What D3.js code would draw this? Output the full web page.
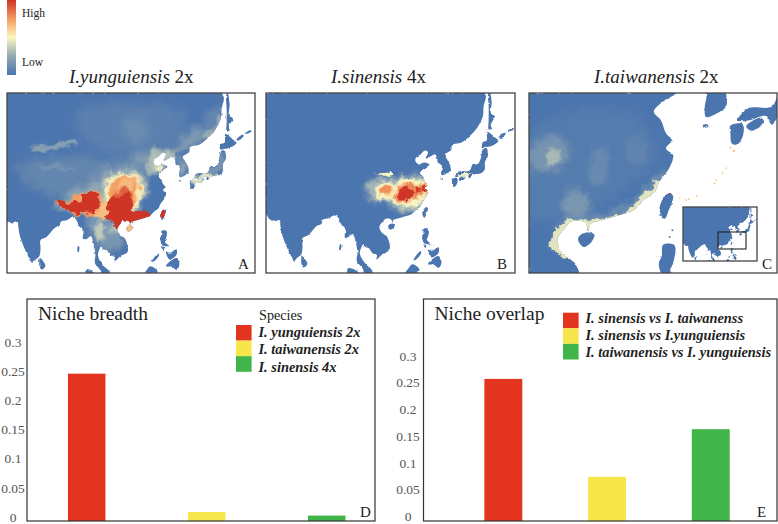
<!DOCTYPE html>
<html>
<head>
<meta charset="utf-8">
<script src="https://cdn.jsdelivr.net/npm/d3@7"></script>
<style>
body { margin: 0; background: #fff; }
text { font-family: "Liberation Serif", serif; fill: #222; }
.axis text { fill: #555; font-size: 13.5px; text-anchor: middle; }
.legend_label { font-weight: bold; font-style: italic; font-size: 14.4px; }
</style>
</head>
<body>
<div id="chart"></div>
<script>
// bar data
var breadth_species = ["I. yunguiensis 2x", "I. taiwanensis 2x", "I. sinensis 4x"];
var breadth_values = [0.248, 0.011, 0.005];
var overlap_pairs = ["I. sinensis vs I. taiwanenss", "I. sinensis vs I.yunguiensis", "I. taiwanensis vs I. yunguiensis"];
var overlap_values = [0.26, 0.077, 0.166];
var tick_values = [0, 0.05, 0.1, 0.15, 0.2, 0.25, 0.3];
var bar_colours = ["#e3341f", "#f6e64a", "#41b549"];

// suitability colour ramp, low to high
var ramp_stops = [0, 0.25, 0.5, 0.72, 1];
var ramp_colours = ["#4c75ae", "#93a9b2", "#fbf7c2", "#f6a76a", "#cf3526"];

// land outlines as [lon, lat]
var mainland = [[141,60],[140.6,54.2],[141.3,53.2],[140.5,51],[140.3,49],[138.5,46.5],[136,44.5],[133,42.8],[131,42.6],[130,42.3],[129.7,41],[127.6,39.8],[128.3,38.7],[129.4,37],[129.4,35.6],[128.5,35],[126.6,34.4],[126.4,35.5],[126.6,37],[125.2,37.9],[125.1,38.7],[124.4,39.9],[122,39],[121.2,38.8],[122,40.5],[121,40.9],[119.5,39.9],[118,39.1],[117.8,38.2],[119,37.3],[120.8,37.8],[122.5,37.2],[120.5,36.1],[119.3,35],[120.3,34],[121,32.5],[121.8,31.7],[121,30.7],[122,29.9],[121.5,28.4],[120,26.5],[119.5,25.4],[118,24.4],[116.5,23],[114.2,22.3],[112,21.7],[110.4,21.2],[110.2,20.3],[109.7,21.4],[108,21.6],[106.7,20.5],[105.8,19],[106.6,17.3],[108.3,16],[109.2,13.5],[109.2,11.7],[107,10.4],[104.8,8.6],[105,10],[103.5,10.6],[102.3,12.2],[100.9,12.7],[100.5,13.5],[100,13],[99.3,10.5],[100.3,8.3],[101.5,6.8],[103.2,5.2],[103.5,3],[101,3],[100.3,5.5],[98.3,8],[98.5,11],[97.6,15.5],[97,16.8],[95.4,15.8],[94.3,16],[94.5,18.5],[93,20],[91.8,22.3],[90.5,22.6],[89,21.8],[87,21.4],[86.5,20],[85,19.4],[82.3,16.6],[80.2,15.5],[80.2,13],[79.8,10.3],[78.2,8.9],[77.5,8.1],[76.3,9.9],[74.8,13],[73.3,17],[72.8,20],[72.6,21.2],[70.9,20.8],[69,21.6],[68.4,22.6],[67,23.4],[60,24],[60,60]];
var hainan = [[108.7,19.2],[109.5,18.2],[110.5,18.8],[111,19.8],[110.3,20.1],[109.2,19.9]];
var taiwan = [[121.5,25.2],[122,24.8],[121.4,23],[120.8,21.9],[120.1,23],[120.6,24.5]];
var sri_lanka = [[80,9.7],[81.2,8.5],[81.8,7],[80.6,5.9],[79.9,6.8]];
var honshu = [[141.4,41.4],[142,39.5],[141,38],[140.9,36],[139.8,35],[138,34.7],[136.8,34.5],[135.8,33.5],[135,34.5],[132.5,34],[131,34],[132.5,35.4],[135.8,35.6],[137,37.4],[138.5,37.3],[139.8,39.5],[140,40.8],[140.3,41.2]];
var hokkaido = [[140,41.5],[141.2,41.8],[143.2,42],[145.5,43.3],[144.3,44.1],[141.8,45.4],[141.5,43.3],[140.3,43]];
var shikoku = [[132.2,33.3],[134.2,34.3],[134.7,33.8],[133,32.8]];
var kyushu = [[130,33.4],[131.7,33.6],[131.8,32.4],[131,31.2],[130.2,31.3],[130,32.5]];
var sakhalin = [[142.5,54.2],[143.2,52],[143,49.5],[144.2,49],[142.9,47],[143.2,46.2],[142.2,46],[142.2,48],[142.2,51],[142,53.5]];
var luzon = [[120.6,18.5],[122.2,18.4],[122,16],[121.6,15],[124,13],[123,13.5],[121,13.7],[120.3,14.7],[120,16],[120.4,17]];
var mindoro = [[120.4,13.4],[121.4,13.2],[121.2,12.3],[120.8,12.6]];
var visayas = [[122,11.8],[123.2,11.4],[125.5,12.5],[125.6,11],[125,10.1],[123.2,9.2],[122.5,10]];
var palawan = [[117.2,8.4],[119.5,11.3],[119.7,10.6],[117.8,8.4]];
var mindanao = [[122,7],[123.5,8.7],[125.5,9.7],[126.5,7.5],[125.5,5.8],[124,6.8]];
var borneo = [[109,1.5],[113,3.4],[115,5],[116.8,7],[119.2,5.2],[117.8,4],[117.5,1]];
var sumatra = [[95.3,5.6],[97.5,5.2],[100,3],[101,1],[96,1]];
var kurile_a = [[145.5,44.1],[147.5,45.2],[147.9,45],[146,43.8]];
var kurile_b = [[148.6,45.7],[150.5,46.3],[150.5,46],[148.8,45.4]];
var andaman = [[92.7,13.6],[93.1,13.4],[92.9,11.6],[92.5,11.8]];
var jeju = [[126.2,33.5],[126.9,33.5],[126.8,33.2],[126.2,33.2]];
var chongming = [[121.2,31.8],[121.9,31.6],[121.8,31.45],[121.2,31.6]];
var land_rings = [mainland, hainan, taiwan, sri_lanka, honshu, hokkaido, shikoku, kyushu, sakhalin, luzon, mindoro, visayas, palawan, mindanao, borneo, sumatra, kurile_a, kurile_b, andaman, jeju, chongming];

// small islands as [lon, lat, suitability]
var islets_c = [[130.5,30.4,0.7],[130,30.8,0.65],[129.4,28.3,0.6],[128.9,27.7,0.6],[128,26.8,0.6],[127.8,26.4,0.65],[125.3,24.8,0.62],[124.2,24.4,0.62],[123.8,24.3,0.6],[122.9,24.5,0.55],[121.9,20.4,0.05],[121.5,19.5,0.05],[120.2,22.4,0.02]];

// suitability patches: [suitability, blur, ring as [lon, lat]]
var patches_a = [
  [0.06, 6, [[92,50],[112,52],[128,50],[126,44],[112,40],[96,43]]],
  [0.08, 5, [[72,37],[88,40],[100,39],[104,32],[92,29],[78,31]]],
  [0.11, 3, [[108,48],[113,49],[116,45],[112,43],[109,45]]],
  [0.14, 4, [[96,31],[102,38],[112,38],[116,33],[110,29],[101,28]]],
  [0.22, 1.2, [[77,41.7],[84,43],[92,43.8],[93,43],[85,41.9],[78,41]]],
  [0.15, 1.5, [[80,38],[88,37.5],[92,36.6],[88,36.4],[81,37]]],
  [0.18, 3, [[111,41],[118,41],[124,42],[128,45],[134,47],[136,45],[130,42],[125,40],[118,38],[112,37]]],
  [0.32, 2, [[117,41],[121,41.5],[124.6,41],[124.6,39.4],[122,38],[119,36],[116,35.4],[116,39]]],
  [0.46, 1, [[118,37],[120.8,37.4],[122,36.6],[120,35.6],[118.6,35.6]]],
  [0.22, 2.5, [[126,39],[128,39],[129,36],[127,34.6],[125.8,36]]],
  [0.08, 3, [[135,49],[139.8,52],[140.5,49],[138,45.5],[134,45]]],
  [0.26, 1.2, [[134,45],[138,47],[140,50],[140.8,49],[138.4,45.8],[135.8,44]]],
  [0.16, 2, [[136,35],[142,37],[141,41],[139,39],[134,35.4]]],
  [0.45, 1, [[130,33],[132,32.5],[135,33.5],[139,34.7],[137,35.4],[132,34.4]]],
  [0.16, 3, [[96,24],[104,22],[108,17],[106,12],[100,13],[97,17]]],
  [0.36, 1.5, [[98.6,20],[100,22],[101.4,20],[100.5,16],[99,15],[98.4,17]]],
  [0.34, 2, [[103,20],[106,20],[107,17.5],[104,17.5]]],
  [0.24, 3, [[88,29],[94,31.4],[100,33],[101,30],[97,27],[90,27]]],
  [0.3, 2, [[84,26.4],[92,27],[98,28],[101,30],[103,27],[99,24.4],[92,24.4],[86,25.6]]],
  [0.36, 2.5, [[101,27],[101.6,32],[103.4,35.6],[109,36],[113.6,35],[115.4,31],[113,26],[112,23],[107,21.4],[103,23],[100,24]]],
  [0.52, 1.2, [[102,32],[104.4,35.2],[110,35.6],[113.8,33],[113.4,28],[110,24],[104,24],[101.2,27]]],
  [0.74, 1, [[102.8,29],[104.8,34],[109,34.8],[113,33],[112.8,30],[110.6,27],[104,26]]],
  [0.67, 1.8, [[106,32],[108,33.8],[111,33.6],[111.6,31],[109,29.6],[106.5,30]]],
  [0.66, 1, [[97,25.8],[103,27],[104,23.6],[101,22.6],[97.5,23.2]]],
  [0.74, 0.8, [[84.5,28],[90,27.4],[92,29],[99,30.4],[100.4,26],[97,23.6],[91,24],[88.6,25.4]]],
  [1, 0.4, [[85.4,28],[88,27.6],[90,26.8],[92,27.4],[94,27.2],[95,29.8],[98.6,30],[99.8,26.2],[97.4,24.6],[94,24],[92,24.4],[89.6,24.8]]],
  [0.9, 0.8, [[104,27],[106,30.6],[109.4,31],[111,28],[109,26]]],
  [1, 0.4, [[102.8,27.8],[106,28.8],[109.4,29.4],[111.2,26.8],[111.2,24.2],[114,24.2],[117.4,23.8],[113,21.4],[110,20.8],[107.6,20.2],[104.8,19],[103,22.2]]],
  [0.66, 0.5, [[108.4,20.6],[111.4,20.6],[111.2,18.4],[108.4,17.8]]],
  [1, 0.3, [[120.2,24.9],[121.6,25],[121.5,23],[120.9,21.9],[120.3,23]]]
];
var patches_b = [
  [0.3, 2.5, [[101.6,30],[104,33.4],[110,33.6],[114,34],[119,34.4],[123,32.6],[123,29],[119.6,25],[114,23.4],[110,25],[107.6,27.4],[103.6,26.4]]],
  [0.5, 1.2, [[104,29],[105.6,32.4],[109.8,32.4],[112,30],[108.4,27],[105.4,27.4]]],
  [0.5, 1.2, [[110.6,31],[113,33.2],[118,33.2],[122.6,32.6],[122,29],[118.6,26.4],[114,25],[110.2,26.4]]],
  [0.5, 0.4, [[106,35],[110,35.2],[110,34.6],[106,34.4]]],
  [0.78, 0.8, [[105.8,28.8],[106.4,31.2],[109.8,31.4],[110.2,29.6],[108,28.4]]],
  [0.8, 0.8, [[111.6,26.8],[112.2,31.4],[116,32],[118,31.4],[121.4,32.2],[122.4,30],[119.8,28.2],[116,27.6],[114.8,26.4]]],
  [1, 0.6, [[112.4,27],[112.8,30.8],[115.6,31.2],[116.2,29],[115.2,26.8]]],
  [0.98, 0.5, [[117.2,29.6],[118.2,31.2],[120,30.8],[119.4,29.2]]],
  [0.98, 0.4, [[120.4,29.4],[120.8,31.4],[122,30.6],[121.6,29]]],
  [0.5, 0.5, [[131,33.8],[133,34],[135.5,34],[136.5,34.8],[132,34.8]]]
];
var patches_c = [
  [0.03, 6, [[98,27],[104,34],[116,35],[120,30],[116,26],[108,22],[100,22]]],
  [0.15, 3, [[101.5,29.5],[103.5,31.8],[106.5,32],[107.4,29.4],[105.4,28],[103,28]]],
  [0.3, 1.5, [[104,29.4],[105,30.7],[106.2,30.4],[106,29.2],[104.8,28.8]]],
  [0.1, 2.5, [[110.6,26.4],[111,30.6],[112.6,30.8],[113,28],[112.2,26.4]]],
  [0.16, 2.5, [[106.6,22.4],[107.4,25.4],[109.6,25.2],[110.4,23],[108.8,22]]],
  [0.07, 2.5, [[115.6,29],[116,32],[118,31.6],[118,29]]],
  [0.12, 2, [[105.2,18],[105.6,20.6],[107.8,22.4],[110,22.2],[112,22.6],[114.2,23.2],[116.2,24.2],[117.6,25.4],[119,26.6],[120,27.8],[121,27],[118,23],[114,21],[110,20.4],[108,20.4],[107,17]]],
  [0.44, 0.7, [[105,18],[105.4,20.2],[107.6,21.95],[110,21.6],[112,22.05],[114.2,22.65],[116.2,23.4],[117.6,24.6],[119,25.6],[119.8,26.6],[121,26],[118,23],[114,21],[110,20.4],[108,20.4],[107,17]]],
  [1, 0.3, [[121.1,25.5],[122.1,25.4],[122,24.85],[121.2,24.9]]]
];
var patches_empty = [];

var colour = d3.scaleLinear().domain(ramp_stops).range(ramp_colours);

var svg = d3.select("#chart").append("svg").attr("width", 778).attr("height", 524);
var defs = svg.append("defs");

// blur filters made on demand
var blur_seen = {};
function blurFilter(std) {
  var id = "blur_" + String(std).replace(".", "_");
  if (!blur_seen[id]) {
    defs.append("filter").attr("id", id)
      .attr("filterUnits", "userSpaceOnUse")
      .attr("x", 0).attr("y", 0).attr("width", 778).attr("height", 524)
      .append("feGaussianBlur").attr("stdDeviation", std);
    blur_seen[id] = true;
  }
  return "url(#" + id + ")";
}

// noise displacement, only for texture of the map
function noiseFilter(id, freq, amount, seed) {
  var f = defs.append("filter").attr("id", id)
    .attr("filterUnits", "userSpaceOnUse")
    .attr("x", 0).attr("y", 0).attr("width", 778).attr("height", 524);
  f.append("feTurbulence").attr("type", "fractalNoise").attr("baseFrequency", freq)
    .attr("numOctaves", 3).attr("seed", seed).attr("result", "noise");
  f.append("feDisplacementMap").attr("in", "SourceGraphic").attr("in2", "noise")
    .attr("scale", amount).attr("xChannelSelector", "R").attr("yChannelSelector", "G");
}
noiseFilter("rough", 0.25, 2.4, 4);
noiseFilter("wobble", 0.1, 11, 9);

function drawMap(id, box, map_scale, anchor, anchor_px, patches, islets) {
  var projection = d3.geoMercator().scale(map_scale).center(anchor).translate(anchor_px);
  var px = function(d) { return projection(d)[0]; };
  var py = function(d) { return projection(d)[1]; };
  var ring_line = d3.line().x(px).y(py).curve(d3.curveCatmullRomClosed);

  defs.append("clipPath").attr("id", "box_" + id).append("rect")
    .attr("x", box[0]).attr("y", box[1]).attr("width", box[2]).attr("height", box[3]);
  defs.append("clipPath").attr("id", "land_" + id).selectAll("path")
    .data(land_rings).enter().append("path")
    .attr("d", function(d) { return ring_line(d); });

  var outer = svg.append("g").attr("clip-path", "url(#box_" + id + ")");
  var rough_g = outer.append("g").attr("filter", "url(#rough)");
  var map = rough_g.append("g").attr("clip-path", "url(#land_" + id + ")");

  map.append("rect").attr("x", box[0]).attr("y", box[1]).attr("width", box[2]).attr("height", box[3])
    .style("fill", colour(0));

  map.append("g").attr("filter", "url(#wobble)")
    .selectAll("path.patch").data(patches).enter().append("path")
    .attr("class", "patch")
    .attr("d", function(d) { return ring_line(d[2]); })
    .style("fill", function(d) { return colour(d[0]); })
    .attr("filter", function(d) { return blurFilter(d[1]); });

  outer.selectAll("circle").data(islets).enter().append("circle")
    .attr("cx", px)
    .attr("cy", py)
    .attr("r", 1)
    .style("fill", function(d) { return colour(d[2]); });

  svg.append("rect").attr("x", box[0]).attr("y", box[1]).attr("width", box[2]).attr("height", box[3])
    .style("fill", "none").style("stroke", "#444").style("stroke-width", 1.3);
}

drawMap("a", [7, 93, 248, 180], 172, [121, 24], [163, 213], patches_a, []);
drawMap("b", [266, 93, 249, 180], 172, [121, 24], [425, 211], patches_b, []);
drawMap("c", [529, 93, 248, 180], 410, [121, 23.8], [666, 204], patches_c, islets_c);

// locator inset on panel C
svg.append("rect").attr("x", 683).attr("y", 207).attr("width", 74).attr("height", 54).style("fill", "#fff");
drawMap("inset", [683, 207, 74, 54], 51.5, [121, 24], [731.5, 243], patches_empty, []);
svg.append("rect").attr("x", 718).attr("y", 232).attr("width", 28).attr("height", 17)
  .style("fill", "none").style("stroke", "#222").style("stroke-width", 1.1);

// colour key
var key = defs.append("linearGradient").attr("id", "key_gradient")
  .attr("x1", "0%").attr("y1", "100%").attr("x2", "0%").attr("y2", "0%");
key.selectAll("stop").data(ramp_stops).enter().append("stop")
  .attr("offset", function(d) { return d; })
  .attr("stop-color", function(d) { return colour(d); });
svg.append("rect").attr("x", 7).attr("y", 0).attr("width", 9).attr("height", 75).style("fill", "url(#key_gradient)");
svg.append("text").attr("x", 22).attr("y", 17).style("font-size", "11.5px").text("High");
svg.append("text").attr("x", 22).attr("y", 66).style("font-size", "11.5px").text("Low");

// map titles
function mapTitle(x, italic, plain) {
  var t = svg.append("text").attr("x", x).attr("y", 83).style("font-size", "19px");
  t.append("tspan").style("font-style", "italic").text(italic);
  t.append("tspan").text(" " + plain);
}
mapTitle(69, "I.yunguiensis", "2x");
mapTitle(331, "I.sinensis", "4x");
mapTitle(594, "I.taiwanensis", "2x");

function panelLetter(x, y, letter) {
  svg.append("text").attr("x", x).attr("y", y).style("font-size", "15px").text(letter);
}
panelLetter(238, 269, "A");
panelLetter(497, 269, "B");
panelLetter(762, 269, "C");
panelLetter(360, 517, "D");
panelLetter(757, 517, "E");

// bar panels
function drawBars(frame, zero_y, px_per_unit, band_range, inner, tick_x, categories, values) {
  var x = d3.scaleBand().domain(categories).range(band_range).paddingInner(inner).paddingOuter(inner / 2);
  var y = d3.scaleLinear().domain([0, 0.3]).range([zero_y, zero_y - 0.3 * px_per_unit]);
  var bottom = frame[1] + frame[3];

  svg.append("g").selectAll("rect").data(categories).enter().append("rect")
    .attr("x", function(d) { return x(d); })
    .attr("y", function(d, i) { return y(values[i]); })
    .attr("width", x.bandwidth())
    .attr("height", function(d, i) { return bottom - y(values[i]); })
    .style("fill", function(d, i) { return bar_colours[i]; });

  var axis = svg.append("g").attr("class", "axis")
    .attr("transform", "translate(" + tick_x + ",-1.6)")
    .call(d3.axisLeft(y).tickValues(tick_values).tickSize(0).tickPadding(0).tickFormat(function(d) { return String(d); }));
  axis.select(".domain").remove();

  svg.append("rect").attr("x", frame[0]).attr("y", frame[1]).attr("width", frame[2]).attr("height", frame[3])
    .style("fill", "none").style("stroke", "#333").style("stroke-width", 1.2);
}

function drawLegend(x, y, text_x, text_dy, labels) {
  svg.selectAll("rect.leg" + x).data(labels).enter().append("rect")
    .attr("class", "leg" + x)
    .attr("x", x)
    .attr("y", function(d, i) { return y + i * 15.6; })
    .attr("width", 15.6)
    .attr("height", 15.6)
    .style("fill", function(d, i) { return bar_colours[i]; });
  svg.selectAll("text.leg" + x).data(labels).enter().append("text")
    .attr("class", "legend_label leg" + x)
    .attr("x", text_x)
    .attr("y", function(d, i) { return y + text_dy + i * 17.3; })
    .text(function(d) { return d; });
}

drawBars([27, 299, 348, 222], 518.5, 584, [26.7, 386.7], 0.6875, 13, breadth_species, breadth_values);
drawBars([423.5, 299, 353.5, 222], 518, 535, [451.5, 762.6], 0.634, 408, overlap_pairs, overlap_values);

drawLegend(236, 325, 258.5, 12, breadth_species);
drawLegend(563, 312.7, 585.5, 10, overlap_pairs);

svg.append("text").attr("x", 259).attr("y", 319.5).style("font-size", "14.2px").text("Species");
svg.append("text").attr("x", 38).attr("y", 320).style("font-size", "19.5px").text("Niche breadth");
svg.append("text").attr("x", 434.5).attr("y", 320).style("font-size", "19.5px").text("Niche overlap");
</script>
</body>
</html>
